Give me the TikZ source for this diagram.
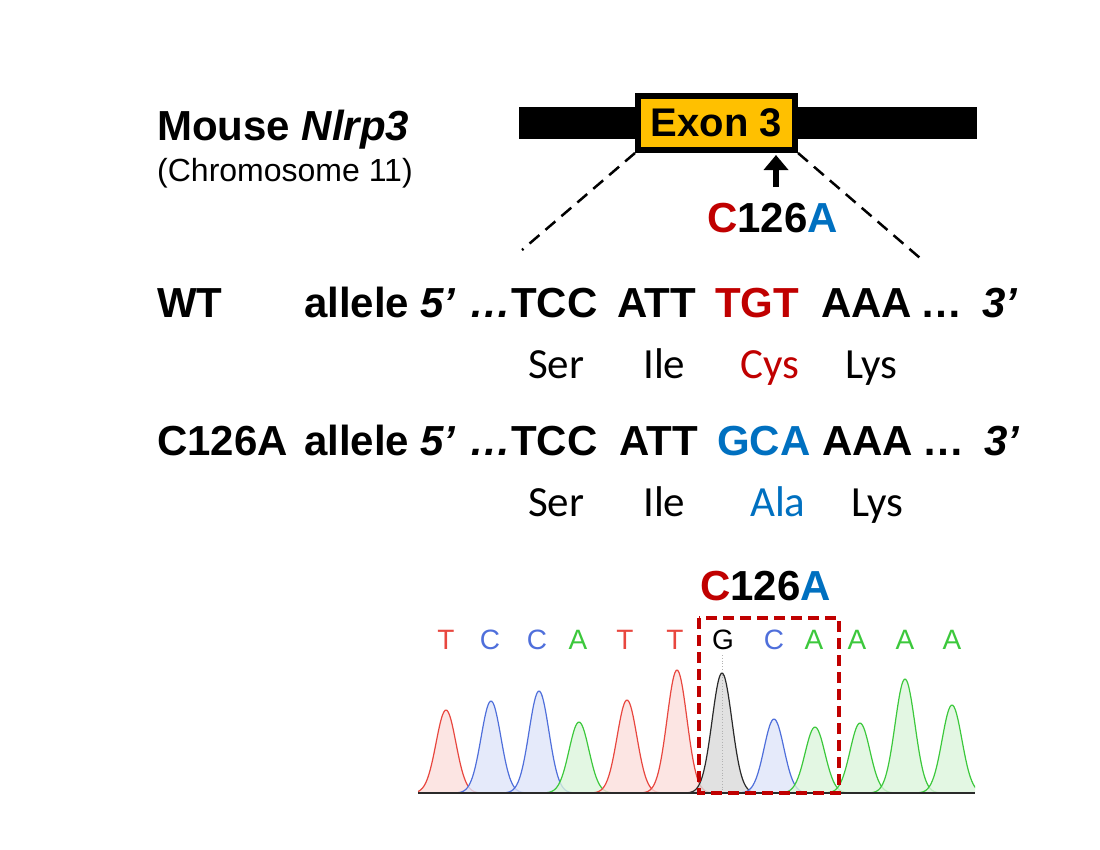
\documentclass[tikz,border=0pt]{standalone}
\usepackage{fontspec}
\setmainfont{Liberation Sans}
\newfontfamily\calfont{Carlito}
\usetikzlibrary{arrows.meta}
\definecolor{dred}{HTML}{C00000}
\definecolor{dblue}{HTML}{0070C0}
\definecolor{exony}{HTML}{FFC000}
\definecolor{tred}{HTML}{E8473F}
\definecolor{tblue}{HTML}{4F6FDB}
\definecolor{tgreen}{HTML}{3CC83C}
\definecolor{tblack}{HTML}{2A2A2A}
\begin{document}
\begin{tikzpicture}[x=1pt,y=-1pt,
  txt/.style={anchor=base west, inner sep=0pt},
  big/.style={txt, font=\fontsize{42}{50}\selectfont\bfseries},
  aa/.style={txt, font=\calfont\fontsize{43}{50}\selectfont},
  trace/.style={anchor=center, inner sep=0pt, font=\fontsize{28}{32}\selectfont},
  gap/.style={dashed, dash pattern=on 13pt off 8pt, line width=2.5pt},
  mutlabel/.style={txt, font=\fontsize{42}{50}\selectfont\bfseries}]
\useasboundingbox (0,0) rectangle (1100,849);

% --- gene header
\node[txt, font=\fontsize{42}{48}\selectfont\bfseries] (mouse) at (157,140) {Mouse \textit{Nlrp3}};
\node[txt, font=\fontsize{32}{38}\selectfont] (chr) at (157,181) {(Chromosome 11)};

\fill[black] (519,107) rectangle (977,139);
\node[draw=black, line width=6pt, fill=exony, minimum width=157pt, minimum height=54pt,
      inner sep=0pt, font=\fontsize{40}{44}\selectfont\bfseries] (exon) at (716.5,123) {Exon 3};

\coordinate (dl) at (522,250);
\coordinate (dr) at (920,258);
\draw[gap] (exon.south west) -- (dl);
\draw[gap] (exon.south east) -- (dr);

\coordinate (arrbase) at (776,187);
\coordinate (arrtip) at (776,155);
\draw[line width=6pt, -{Triangle[width=24pt,length=15pt]}] (arrbase) -- (arrtip);

\node[mutlabel] (mut1) at (707,232) {\textcolor{dred}{C}126\textcolor{dblue}{A}};

% --- allele rows
\node[big] (wt) at (157,317) {WT};
\node[big] (al1) at (304,317) {allele};
\node[big] (f1) at (420,317) {\itshape 5’};
\node[big] (e1) at (469,317) {\itshape …};
\node[big] (a1) at (511,317) {TCC};
\node[big] (b1) at (617,317) {ATT};
\node[big, text=dred] (c1) at (715,317) {TGT};
\node[big] (d1) at (821,317) {AAA};
\node[big] (g1) at (920,317) {…};
\node[big] (t1) at (982,317) {\itshape 3’};

\node[aa] (ser1) at (528,378) {Ser};
\node[aa] (ile1) at (643,378) {Ile};
\node[aa, text=dred] (cys1) at (740,378) {Cys};
\node[aa] (lys1) at (845,378) {Lys};

\node[big] (mt) at (157,455) {C126A};
\node[big] (al2) at (304,455) {allele};
\node[big] (f2) at (420,455) {\itshape 5’};
\node[big] (e2) at (469,455) {\itshape …};
\node[big] (a2) at (511,455) {TCC};
\node[big] (b2) at (619,455) {ATT};
\node[big, text=dblue] (c2) at (717,455) {GCA};
\node[big] (d2) at (822,455) {AAA};
\node[big] (g2) at (922,455) {…};
\node[big] (t2) at (984,455) {\itshape 3’};

\node[aa] (ser2) at (528,516) {Ser};
\node[aa] (ile2) at (643,516) {Ile};
\node[aa, text=dblue] (ala2) at (750,516) {Ala};
\node[aa] (lys2) at (851,516) {Lys};

% --- chromatogram
\node[mutlabel] (mut2) at (700,600) {\textcolor{dred}{C}126\textcolor{dblue}{A}};

\begin{scope}
\clip (418,600) rectangle (975,800);
\foreach \c/\h/\col in {446/83/tred, 491/92/tblue, 539/102/tblue, 579/71/tgreen,
    627/93/tred, 677/123/tred, 722/120/tblack, 774/74/tblue, 815/66/tgreen,
    860/70/tgreen, 905/114/tgreen, 952/88/tgreen} {
  \fill[\col!18, opacity=0.8] plot[domain=\c-40:\c+40, samples=60, smooth] (\x,{793-\h*exp(-((\x-\c)/14)^2)}) -- cycle;
  \draw[\col, line width=1.2pt] plot[domain=\c-40:\c+40, samples=60, smooth] (\x,{793-\h*exp(-((\x-\c)/14)^2)});
}
\end{scope}
\draw[gray!60, dotted, line width=0.8pt] (722,655) -- (722,793);
\draw[tblack, line width=1.6pt] (418,793) -- (975,793);

\foreach \x/\l/\col [count=\i] in {446/T/tred, 490/C/tblue, 537/C/tblue, 578/A/tgreen,
    625/T/tred, 675/T/tred, 723/G/black, 774/C/tblue, 814/A/tgreen, 857/A/tgreen,
    905/A/tgreen, 952/A/tgreen} {
  \node[trace, text=\col] (b\i) at (\x,640) {\l};
}

\draw[dred, line width=4pt, dashed, dash pattern=on 11pt off 6pt] (699,618) rectangle (839,793);
\end{tikzpicture}
\end{document}
